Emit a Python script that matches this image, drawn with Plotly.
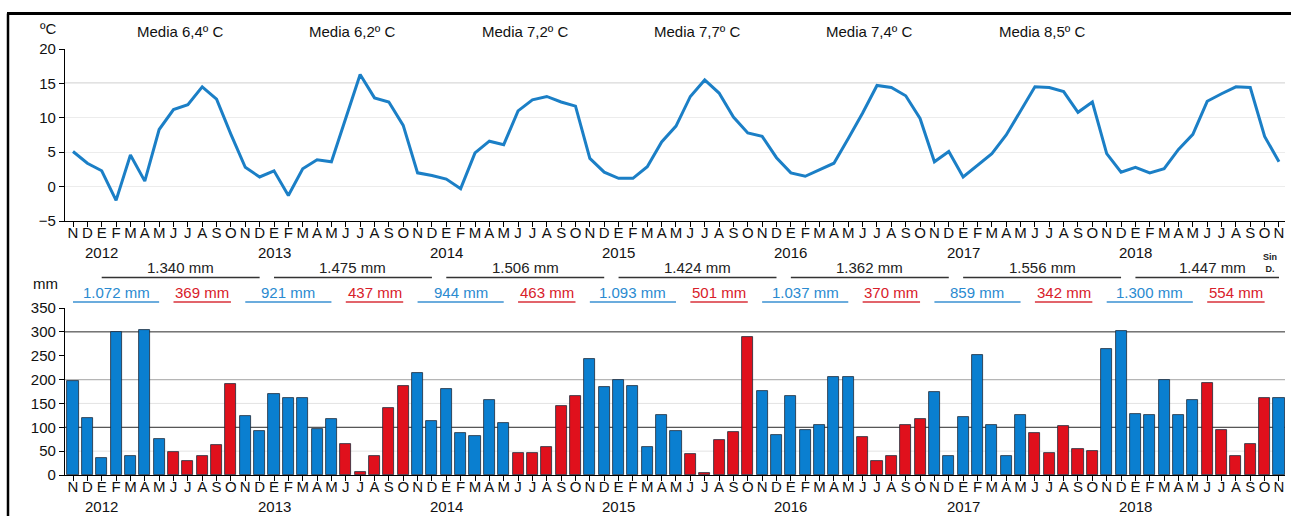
import plotly.graph_objects as go

# Monthly series, November 2011 to November 2018
month_letters = ["N", "D", "E", "F", "M", "A", "M", "J", "J", "A", "S", "O"]
year_labels = ["2012", "2013", "2014", "2015", "2016", "2017", "2018"]

temperature_c = [
    5.1, 3.4,
    2.3, -2.0, 4.6, 0.8, 8.3, 11.2, 11.9, 14.5, 12.7, 7.6, 2.8, 1.4,
    2.3, -1.3, 2.6, 3.9, 3.6, 10.1, 16.3, 12.9, 12.3, 8.9, 2.0, 1.6,
    1.1, -0.3, 4.9, 6.6, 6.1, 11.0, 12.6, 13.1, 12.3, 11.7, 4.1, 2.1,
    1.2, 1.2, 2.9, 6.5, 8.8, 13.1, 15.5, 13.6, 10.1, 7.8, 7.3, 4.2,
    2.0, 1.5, 2.5, 3.4, 7.0, 10.7, 14.7, 14.4, 13.2, 9.9, 3.6, 5.1,
    1.4, 3.1, 4.8, 7.5, 11.0, 14.5, 14.4, 13.8, 10.8, 12.3, 4.8, 2.1,
    2.8, 2.0, 2.6, 5.4, 7.6, 12.4, 13.5, 14.5, 14.4, 7.3, 3.6,
]

precipitation_mm = [
    197, 120,
    36, 299, 40, 304, 76, 48, 29, 39, 63, 190, 124, 92,
    170, 161, 161, 96, 117, 65, 7, 39, 140, 186, 213, 113,
    181, 87, 82, 158, 110, 47, 47, 59, 145, 165, 243, 185,
    200, 187, 59, 126, 93, 44, 4, 73, 90, 290, 177, 83,
    166, 95, 104, 206, 206, 80, 29, 40, 104, 117, 175, 40,
    121, 252, 105, 40, 126, 88, 47, 102, 55, 50, 265, 301,
    127, 125, 199, 126, 157, 193, 94, 40, 66, 161, 162,
]

mean_labels = ["Media 6,4º C", "Media 6,2º C", "Media 7,2º C", "Media 7,7º C",
               "Media 7,4º C", "Media 8,5º C"]
annual_totals = ["1.340 mm", "1.475 mm", "1.506 mm", "1.424 mm", "1.362 mm",
                 "1.556 mm", "1.447 mm"]
wet_totals = ["1.072 mm", "921 mm", "944 mm", "1.093 mm", "1.037 mm", "859 mm", "1.300 mm"]
dry_totals = ["369 mm", "437 mm", "463 mm", "501 mm", "370 mm", "342 mm", "554 mm"]

W, H = 1291, 516
FONT = "Arial, Liberation Sans, sans-serif"
BLUE = "#0a7fd0"
RED = "#e0101c"
LINE_BLUE = "#1b7fc6"
TXT_BLUE = "#2a8ad0"
TXT_RED = "#d8202a"

n = len(temperature_c)
idx = list(range(n))
ticktext = [month_letters[i % 12] for i in idx]
# November..May bars in blue, June..October in red
bar_colors = [BLUE if (i % 12) <= 6 else RED for i in idx]


def px(x):
    return x / W


def py(y):
    return 1 - y / H


x0, step = 73.0, 14.357
xrange = [(65 - x0) / step, (1285 - x0) / step]

fig = go.Figure()

fig.add_trace(go.Scatter(
    x=idx, y=temperature_c, mode="lines",
    line=dict(color=LINE_BLUE, width=3),
    xaxis="x", yaxis="y", showlegend=False, hoverinfo="skip",
))

fig.add_trace(go.Bar(
    x=idx, y=precipitation_mm, width=0.77,
    marker=dict(color=bar_colors, line=dict(color="#1e2a38", width=0.8)),
    xaxis="x2", yaxis="y2", showlegend=False, hoverinfo="skip",
))

axis_common = dict(
    showline=True, linecolor="black", linewidth=1.2,
    ticks="outside", ticklen=5, tickcolor="black", tickwidth=1,
    tickfont=dict(family=FONT, size=15, color="#111"),
    zeroline=False, automargin=False,
)
xaxis_extra = dict(ticklabelstandoff=-7)

fig.update_layout(
    width=W, height=H,
    margin=dict(l=0, r=0, t=0, b=0, pad=0, autoexpand=False),
    paper_bgcolor="white", plot_bgcolor="white",
    bargap=0,
    xaxis=dict(domain=[px(65), px(1285)], range=xrange, anchor="y",
               tickmode="array", tickvals=idx, ticktext=ticktext,
               showgrid=False, **axis_common, **xaxis_extra),
    yaxis=dict(domain=[py(221), py(49)], range=[-5, 20], anchor="x",
               tickmode="array", tickvals=[-5, 0, 5, 10, 15, 20],
               showgrid=True, gridcolor="#ececec", gridwidth=1,
               **axis_common),
    xaxis2=dict(domain=[px(65), px(1285)], range=xrange, anchor="y2",
                tickmode="array", tickvals=idx, ticktext=ticktext,
                showgrid=False, **axis_common, **xaxis_extra),
    yaxis2=dict(domain=[py(475), py(308)], range=[0, 350], anchor="x2",
                tickmode="array", tickvals=[0, 50, 100, 150, 200, 250, 300, 350],
                showgrid=False, **axis_common),
)

shapes = []
# reference line at 15 ºC
shapes.append(dict(type="line", xref="x", yref="y", x0=xrange[0], x1=xrange[1],
                   y0=15, y1=15, line=dict(color="#8a8a8a", width=1.2), layer="below"))
# precipitation grid
for v, c, w in [(50, "#e3e3e3", 1), (150, "#e3e3e3", 1), (200, "#b5b5b5", 1.2),
                (100, "#2a2a2a", 1), (300, "#2a2a2a", 1)]:
    shapes.append(dict(type="line", xref="x2", yref="y2", x0=xrange[0], x1=xrange[1],
                       y0=v, y1=v, line=dict(color=c, width=w), layer="below"))

annotations = []


def text(x, y, s, size=15, color="#111", xref="x"):
    annotations.append(dict(x=x, y=y, xref=xref, yref="paper", text=s, showarrow=False,
                            font=dict(family=FONT, size=size, color=color),
                            xanchor="center", yanchor="middle"))


# year labels under January of each year (both panels)
for k, yl in enumerate(year_labels):
    j = 2 + 12 * k
    text(j, py(252), yl)
    text(j, py(506), yl)

# annual mean temperatures
for k, s in enumerate(mean_labels):
    text(2 + 12 * k + 5.5, py(31.5), s, size=15)

# precipitation totals
y_ann_t, y_ann_l = py(267), py(277.5)
y_sea_t, y_sea_l = py(292.5), py(302)
for k in range(7):
    a0 = 2 + 12 * k
    a1 = min(a0 + 11, n - 1)
    shapes.append(dict(type="line", xref="x", yref="paper", x0=a0, x1=a1,
                       y0=y_ann_l, y1=y_ann_l, line=dict(color="#333", width=1.6)))
    cx = (a0 + a1) / 2 + (0.4 if k == 6 else 0)
    text(cx, y_ann_t, annual_totals[k], color="#222")

    w0, w1 = 12 * k, 12 * k + 6
    shapes.append(dict(type="line", xref="x", yref="paper", x0=w0, x1=w1,
                       y0=y_sea_l, y1=y_sea_l, line=dict(color="#3a90d2", width=1.6)))
    text((w0 + w1) / 2, y_sea_t, wet_totals[k], color=TXT_BLUE)

    d0, d1 = 12 * k + 7, 12 * k + 11
    shapes.append(dict(type="line", xref="x", yref="paper", x0=d0, x1=d1,
                       y0=y_sea_l, y1=y_sea_l, line=dict(color="#d8303a", width=1.6)))
    text((d0 + d1) / 2, y_sea_t, dry_totals[k], color=TXT_RED)

text(px(1270), py(263), "<b>Sin<br>D.</b>", size=9, color="#222", xref="paper")

# unit labels
text(px(48), py(29), "ºC", size=15, xref="paper")
text(px(45), py(283), "mm", size=15, xref="paper")

# frame
shapes.append(dict(type="line", xref="paper", yref="paper", x0=px(7), x1=1,
                   y0=py(13.5), y1=py(13.5), line=dict(color="black", width=3)))
shapes.append(dict(type="line", xref="paper", yref="paper", x0=px(8), x1=px(8),
                   y0=0, y1=py(13.5), line=dict(color="black", width=2.5)))

fig.update_layout(shapes=shapes, annotations=annotations)

fig.write_html("out.html")
